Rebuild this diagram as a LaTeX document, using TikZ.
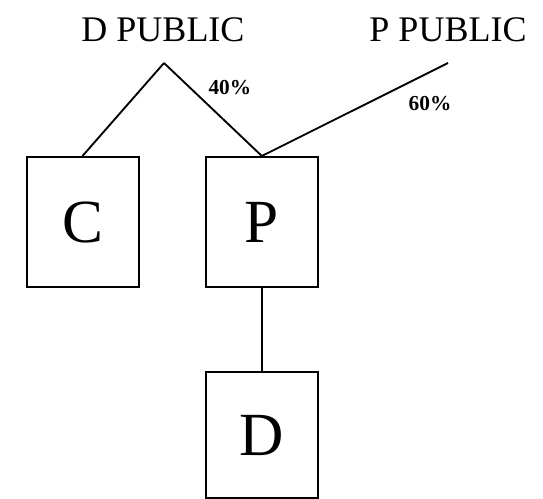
\documentclass[tikz,border=0pt]{standalone}
\usepackage{fontspec}
\setmainfont{Liberation Serif}
\usetikzlibrary{positioning}

\begin{document}
\begin{tikzpicture}[
    x=0.75pt, y=-0.75pt,
    company/.style={rectangle, draw=black, line width=1.5pt, minimum width=84pt, minimum height=97.5pt, inner sep=0pt, text centered, font=\fontsize{46}{50}\selectfont},
    owner/.style={anchor=base, inner sep=0pt, font=\fontsize{27}{30}\selectfont},
    share/.style={font=\bfseries\fontsize{16}{18}\selectfont},
    link/.style={line width=1.4pt}
]
\useasboundingbox (0,0) rectangle (543,499);

\node[company] (C) at (82.5,222) {C};
\node[company, right=49pt of C] (P) {P};
\node[company, below=62pt of P, minimum height=95pt] (D) {D};

\node[owner] (dpub) at (163,42) {D PUBLIC};
\node[owner] (ppub) at (448,42) {P PUBLIC};
\coordinate (dapex) at (164,63);
\coordinate (papex) at (448,63);

\draw[link] (dapex) -- (C.north);
\draw[link] (dapex) -- node[share, pos=0.4, above right] {40\%} (P.north);
\draw[link] (P.north) -- node[share, pos=0.76, below right, yshift=-4pt] {60\%} (papex);
\draw[link] (P) -- (D);

\end{tikzpicture}
\end{document}
